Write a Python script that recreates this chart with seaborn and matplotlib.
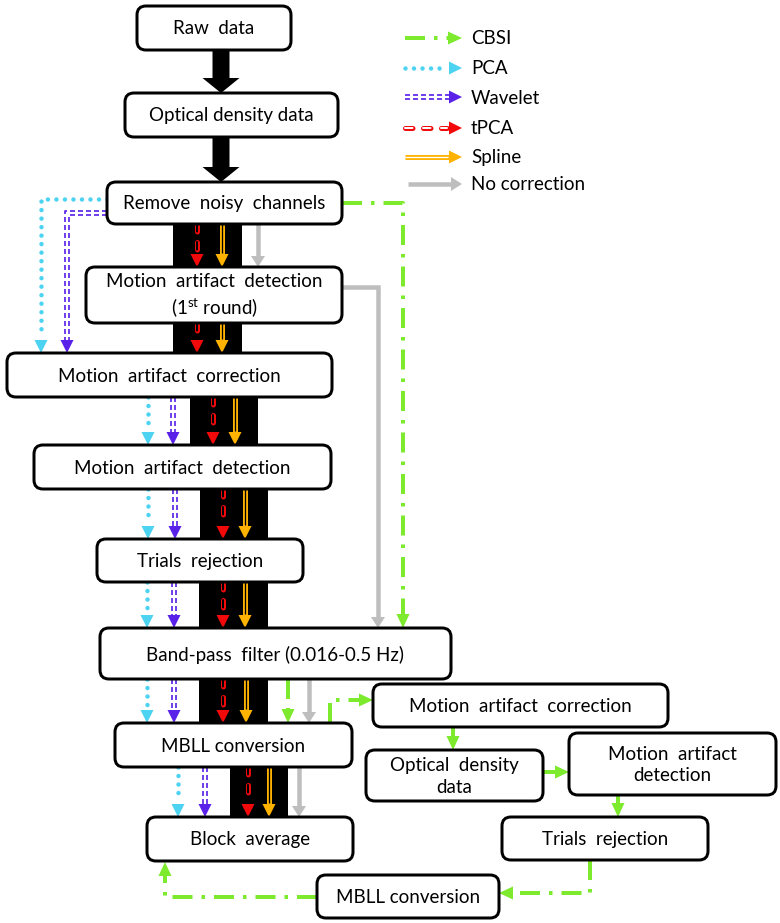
import numpy as np
import matplotlib
matplotlib.use("Agg")
import matplotlib.pyplot as plt
from matplotlib.patches import FancyBboxPatch, Polygon, Rectangle
import seaborn as sns

# ---------------- data ----------------
main_steps = ["Raw  data", "Optical density data", "Remove  noisy  channels",
              "Motion  artifact  detection\n(1$^{\\mathrm{st}}$ round)",
              "Motion  artifact  correction", "Motion  artifact  detection",
              "Trials  rejection", "Band-pass  filter (0.016-0.5 Hz)",
              "MBLL conversion", "Block  average"]
cbsi_steps = ["Motion  artifact  correction", "Optical  density\ndata",
              "Motion  artifact\ndetection", "Trials  rejection", "MBLL conversion"]
methods = ["CBSI", "PCA", "Wavelet", "tPCA", "Spline", "No correction"]
method_keys = ["cbsi", "pca", "wavelet", "tpca", "spline", "none"]

# ---------------- layout (pixels) ----------------
main_boxes = [(137, 6, 291, 50), (125, 93, 338, 137), (107, 182, 342, 224),
              (86, 267, 342, 323), (7, 353, 332, 397), (34, 445, 331, 489),
              (97, 539, 303, 582), (100, 628, 451, 679), (115, 723, 352, 767),
              (147, 817, 353, 861)]
cbsi_boxes = [(373, 684, 668, 727), (366, 750, 543, 801), (569, 733, 776, 795),
              (502, 817, 708, 860), (317, 875, 499, 918)]
# black columns between main box i and i+1 (i from 2)
gap_cols = {2: (173, 242), 3: (173, 242), 4: (190, 258), 5: (200, 268),
            6: (199, 268), 7: (199, 268), 8: (230, 288)}
gap_arrows = {2: {"tpca": 197, "spline": 222, "none": 258},
              3: {"tpca": 197, "spline": 222},
              4: {"pca": 148, "wavelet": 173, "tpca": 213, "spline": 235},
              5: {"pca": 148, "wavelet": 175, "tpca": 223, "spline": 245},
              6: {"pca": 147, "wavelet": 174, "tpca": 223, "spline": 245},
              7: {"pca": 147, "wavelet": 174, "tpca": 223, "spline": 246,
                  "cbsi": 288, "none": 309},
              8: {"pca": 178, "wavelet": 205, "tpca": 248, "spline": 269, "none": 299}}
long_paths = [("pca", [(107, 199), (41, 199), (41, 353)]),
              ("wavelet", [(107, 213), (67, 213), (67, 353)]),
              ("none", [(342, 287), (378, 287), (378, 628)]),
              ("cbsi", [(342, 203), (403, 203), (403, 628)]),
              ("cbsi", [(330, 723), (330, 700), (373, 700)]),
              ("cbsi", [(453, 727), (453, 750)]),
              ("cbsi", [(543, 772), (569, 772)]),
              ("cbsi", [(618, 795), (618, 817)]),
              ("cbsi", [(590, 860), (590, 893), (499, 893)]),
              ("cbsi", [(317, 897), (165, 897), (165, 862)])]
legend_y = [38, 68, 97, 128, 157, 184]

COL = {"cbsi": "#7DEA2E", "pca": "#4DD3F2", "wavelet": "#5A22E8",
       "tpca": "#F20A0A", "spline": "#FFB300", "none": "#BEBEBE"}

# ---------------- setup ----------------
sns.set_theme(style="white")
plt.rcParams["font.family"] = ["Lato", "DejaVu Sans"]
plt.rcParams["mathtext.fontset"] = "custom"
plt.rcParams["mathtext.rm"] = "Lato"
plt.rcParams["mathtext.it"] = "Lato:italic"
plt.rcParams["mathtext.bf"] = "Lato:bold"
plt.rcParams["lines.scale_dashes"] = False

W, H = 780, 923
PT = 0.72
fig = plt.figure(figsize=(7.8, 9.23), dpi=100)
fig.patch.set_facecolor("white")
ax = fig.add_axes([0, 0, 1, 1])
ax.set_xlim(0, W)
ax.set_ylim(H, 0)
ax.axis("off")
FS = 13.5


def offset_path(pts, d):
    pts = np.asarray(pts, float)
    segs = pts[1:] - pts[:-1]
    norms = np.array([np.array([-s[1], s[0]]) / np.hypot(*s) for s in segs])
    out = []
    for i in range(len(pts)):
        if i == 0:
            m = norms[0]
        elif i == len(pts) - 1:
            m = norms[-1]
        else:
            a, b = norms[i - 1], norms[i]
            m = (a + b) / (1 + a @ b)
        out.append(pts[i] + d * m)
    return np.array(out)


def head(tip, d, color, L, Wd, z=5):
    n = np.array([-d[1], d[0]])
    base = tip - d * L
    ax.add_patch(Polygon([tip, base + n * Wd / 2, base - n * Wd / 2], closed=True,
                         fc=color, ec="none", zorder=z))


def line(pts, color, lw, dashes=None, cap="butt", z=4):
    pts = np.asarray(pts)
    ln, = ax.plot(pts[:, 0], pts[:, 1], color=color, lw=lw * PT,
                  solid_capstyle=cap, dash_capstyle=cap, solid_joinstyle="miter", zorder=z)
    if dashes is not None:
        ln.set_dashes([v * PT for v in dashes])
    return ln


def arrow(pts, key, bg="white"):
    pts = np.asarray(pts, float)
    tip = pts[-1]
    d = pts[-1] - pts[-2]
    d = d / np.linalg.norm(d)
    c = COL[key]
    if key == "cbsi":
        L, Wd = 14, 13
        sh = pts.copy(); sh[-1] = tip - d * (L - 1)
        line(sh, c, 4, [20, 9, 3.5, 9])
    elif key == "pca":
        L, Wd = 13, 13
        sh = pts.copy(); sh[-1] = tip - d * (L + 3)
        line(sh, c, 4.5, [0.01, 8.5], cap="round")
    elif key == "wavelet":
        L, Wd = 13, 13
        sh = pts.copy(); sh[-1] = tip - d * (L - 1)
        for o in (-2.1, 2.1):
            line(offset_path(sh, o), c, 1.7, [5, 3])
    elif key == "tpca":
        L, Wd = 13, 13
        sh = pts.copy(); sh[-1] = tip - d * (L + 2)
        line(sh, c, 5, [7.5, 10.5], cap="round")
        line(sh, bg, 2, [7.5, 10.5], cap="round", z=4.5)
    elif key == "spline":
        L, Wd = 13, 13
        sh = pts.copy(); sh[-1] = tip - d * (L - 1)
        line(sh, c, 5)
        sh2 = sh.copy(); sh2[-1] = tip - d * (L + 1)
        line(sh2, bg, 1.3, z=4.5)
    else:
        L, Wd = 11, 14
        sh = pts.copy(); sh[-1] = tip - d * (L - 1)
        line(sh, c, 4.5)
    head(tip, d, c, L, Wd)


def box(b, text):
    x0, y0, x1, y1 = b
    ax.add_patch(FancyBboxPatch((x0, y0), x1 - x0, y1 - y0,
                                boxstyle="round,pad=0,rounding_size=9",
                                fc="white", ec="black", lw=3 * PT, zorder=6))
    ax.text((x0 + x1) / 2, (y0 + y1) / 2 + 1, text, ha="center", va="center",
            fontsize=FS, color="black", linespacing=1.3, zorder=7)


# black columns
for i, (cx0, cx1) in gap_cols.items():
    ytop = main_boxes[i][3]
    ybot = main_boxes[i + 1][1]
    ax.add_patch(Rectangle((cx0, ytop - 2), cx1 - cx0, ybot - ytop + 4,
                           fc="black", ec="none", zorder=1))

# thick black arrows at the top
for i in (0, 1):
    ytop = main_boxes[i][3]
    ybot = main_boxes[i + 1][1]
    xc = 221
    ax.add_patch(Polygon([(xc - 8.5, ytop - 2), (xc + 8.5, ytop - 2), (xc + 8.5, ybot - 15),
                          (xc + 18.5, ybot - 15), (xc, ybot), (xc - 18.5, ybot - 15),
                          (xc - 8.5, ybot - 15)], closed=True, fc="black", ec="none", zorder=1))

# column arrows
for i, arrs in gap_arrows.items():
    ytop = main_boxes[i][3]
    ybot = main_boxes[i + 1][1]
    cx0, cx1 = gap_cols[i]
    for key, x in arrs.items():
        bg = "black" if cx0 < x < cx1 else "white"
        arrow([(x, ytop), (x, ybot)], key, bg=bg)

for key, pts in long_paths:
    arrow(pts, key)

# boxes
for b, t in zip(main_boxes, main_steps):
    box(b, t)
for b, t in zip(cbsi_boxes, cbsi_steps):
    box(b, t)

# legend
for lab, key, y in zip(methods, method_keys, legend_y):
    x0 = 408 if key == "none" else 405
    arrow([(x0, y), (462, y)], key)
    ax.text(471, y + 1, lab, ha="left", va="center", fontsize=FS, color="black")

fig.savefig("out.png", dpi=100, facecolor="white")
